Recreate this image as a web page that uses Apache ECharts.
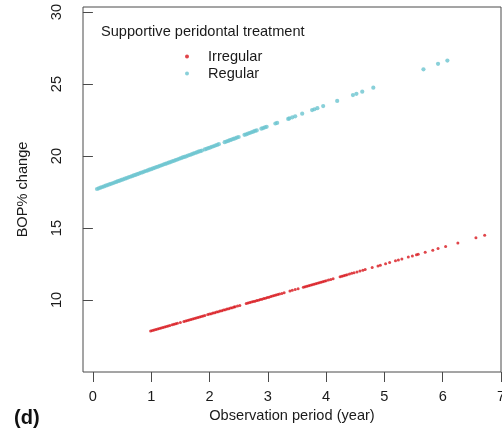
<!DOCTYPE html>
<html>
<head>
<meta charset="utf-8">
<script src="https://cdn.jsdelivr.net/npm/echarts@6/dist/echarts.min.js"></script>
<style>
  html, body { margin: 0; padding: 0; background: #fff; }
  #chart { width: 502px; height: 439px; }
</style>
</head>
<body>
<div id="chart"></div>
<script>
// Predicted BOP% change by observation period, per supportive treatment group
const irregularYears = [
  0.99, 1.02, 1.05, 1.08, 1.11, 1.14, 1.17, 1.20, 1.23, 1.26, 1.29, 1.32, 1.36, 1.39, 1.42, 1.45,
  1.50, 1.56, 1.59, 1.62, 1.65, 1.68, 1.71, 1.74, 1.77, 1.80, 1.83, 1.86, 1.89, 1.92,
  1.97, 2.00, 2.03, 2.06, 2.09, 2.12, 2.15, 2.18, 2.21, 2.24, 2.27, 2.30, 2.33, 2.36, 2.39, 2.42, 2.44,
  2.48, 2.52, 2.63, 2.66, 2.69, 2.72, 2.75, 2.78, 2.81, 2.84, 2.87, 2.90, 2.93, 2.96, 2.99, 3.02,
  3.05, 3.08, 3.11, 3.14, 3.17, 3.20, 3.24, 3.28, 3.38, 3.42, 3.47, 3.52,
  3.61, 3.64, 3.67, 3.70, 3.73, 3.76, 3.79, 3.82, 3.85, 3.88, 3.91, 3.94, 3.97, 4.00, 4.04, 4.08, 4.12,
  4.24, 4.27, 4.30, 4.33, 4.36, 4.40, 4.44, 4.48, 4.53, 4.58, 4.63, 4.67, 4.79,
  4.89, 4.93, 5.02, 5.09, 5.19, 5.24, 5.30, 5.41, 5.48, 5.55, 5.58, 5.70, 5.83, 5.92, 6.05, 6.26, 6.57, 6.72
];
const irregularBop = [
  7.85, 7.88, 7.92, 7.95, 7.99, 8.02, 8.06, 8.09, 8.13, 8.16, 8.20, 8.23, 8.28, 8.31, 8.35, 8.38,
  8.44, 8.51, 8.54, 8.58, 8.61, 8.65, 8.68, 8.72, 8.75, 8.79, 8.82, 8.86, 8.89, 8.93,
  8.99, 9.02, 9.05, 9.09, 9.12, 9.16, 9.19, 9.23, 9.26, 9.30, 9.33, 9.37, 9.40, 9.44, 9.47, 9.51, 9.53,
  9.58, 9.62, 9.75, 9.79, 9.82, 9.86, 9.89, 9.92, 9.96, 9.99, 10.03, 10.06, 10.10, 10.13, 10.17, 10.20,
  10.24, 10.27, 10.31, 10.34, 10.38, 10.41, 10.46, 10.50, 10.62, 10.67, 10.73, 10.78,
  10.89, 10.92, 10.96, 10.99, 11.03, 11.06, 11.10, 11.13, 11.17, 11.20, 11.24, 11.27, 11.31, 11.34, 11.39, 11.43, 11.48,
  11.62, 11.65, 11.69, 11.72, 11.76, 11.80, 11.85, 11.90, 11.95, 12.01, 12.07, 12.12, 12.26,
  12.37, 12.42, 12.52, 12.60, 12.72, 12.78, 12.85, 12.98, 13.06, 13.14, 13.17, 13.31, 13.46, 13.57, 13.72, 13.96, 14.32, 14.50
];

const regularYears = [
  0.07, 0.10, 0.13, 0.16, 0.19, 0.22, 0.25, 0.28, 0.31, 0.34, 0.37, 0.40, 0.43, 0.46, 0.49, 0.52,
  0.55, 0.58, 0.61, 0.64, 0.67, 0.70, 0.73, 0.76, 0.79, 0.82, 0.85, 0.88, 0.91, 0.94, 0.97, 1.00,
  1.03, 1.06, 1.09, 1.12, 1.15, 1.18, 1.21, 1.24, 1.27, 1.30, 1.33, 1.36, 1.39, 1.42, 1.45, 1.48,
  1.51, 1.54, 1.57, 1.60, 1.63, 1.66, 1.69, 1.72, 1.75, 1.78, 1.81, 1.84, 1.87, 1.92, 1.95, 1.98,
  2.01, 2.04, 2.07, 2.10, 2.13, 2.16, 2.26, 2.29, 2.32, 2.35, 2.38, 2.41, 2.44, 2.47, 2.50,
  2.60, 2.63, 2.66, 2.69, 2.72, 2.75, 2.78, 2.81, 2.89, 2.92, 2.95, 2.98,
  3.13, 3.16, 3.35, 3.37, 3.42, 3.47, 3.59, 3.76, 3.80, 3.85, 3.95, 4.19, 4.46, 4.52, 4.62, 4.81,
  5.67, 5.92, 6.08
];
const regularBop = [
  17.71, 17.76, 17.80, 17.85, 17.89, 17.94, 17.98, 18.03, 18.07, 18.11, 18.16, 18.20, 18.25, 18.29, 18.34, 18.38,
  18.43, 18.47, 18.52, 18.56, 18.60, 18.65, 18.69, 18.74, 18.78, 18.83, 18.87, 18.92, 18.96, 19.00, 19.05, 19.09,
  19.14, 19.18, 19.23, 19.27, 19.32, 19.36, 19.41, 19.45, 19.49, 19.54, 19.58, 19.63, 19.67, 19.72, 19.76, 19.81,
  19.85, 19.90, 19.94, 19.98, 20.03, 20.07, 20.12, 20.16, 20.21, 20.25, 20.30, 20.34, 20.38, 20.46, 20.50, 20.55,
  20.59, 20.64, 20.68, 20.73, 20.77, 20.82, 20.96, 21.01, 21.05, 21.10, 21.14, 21.19, 21.23, 21.28, 21.32,
  21.47, 21.51, 21.56, 21.60, 21.65, 21.69, 21.74, 21.78, 21.90, 21.94, 21.99, 22.03,
  22.26, 22.30, 22.58, 22.61, 22.69, 22.76, 22.94, 23.19, 23.25, 23.32, 23.47, 23.83, 24.23, 24.32, 24.47, 24.75,
  26.02, 26.40, 26.63
];

const xTicks = [0, 1, 2, 3, 4, 5, 6, 7];
const yTicks = [10, 15, 20, 25, 30];

const FONT = 'Liberation Sans, Arial, Helvetica, sans-serif';
const RED = '#d8161d';
const CYAN = '#6cc4cf';

const pairs = (xs, ys) => xs.map((x, i) => [x, ys[i]]);

const chart = echarts.init(document.getElementById('chart'), null, { renderer: 'canvas' });

chart.setOption({
  animation: false,
  backgroundColor: '#ffffff',
  textStyle: { fontFamily: FONT },
  title: {
    text: 'Supportive peridontal treatment',
    left: 101,
    top: 24,
    textStyle: { fontFamily: FONT, fontSize: 14.6, fontWeight: 'normal', color: '#1a1a1a' },
    padding: 0
  },
  legend: {
    data: ['Irregular', 'Regular'],
    orient: 'vertical',
    left: 185,
    top: 49,
    padding: 0,
    itemGap: 2,
    itemWidth: 4,
    itemHeight: 4,
    icon: 'circle',
    selectedMode: false,
    textStyle: { fontFamily: FONT, fontSize: 14.6, color: '#1a1a1a', padding: [0, 0, 0, 14] }
  },
  graphic: [{
    type: 'text',
    left: 14,
    top: 408,
    style: { text: '(d)', fontFamily: FONT, fontSize: 20, fontWeight: 'bold', fill: '#111' }
  }],
  grid: {
    left: 83,
    top: 7,
    right: 1,
    bottom: 67,
    outerBoundsMode: 'none',
    containLabel: false,
    show: true,
    borderColor: '#4a4a4a',
    borderWidth: 1,
    backgroundColor: 'transparent'
  },
  xAxis: {
    type: 'value',
    min: -0.17,
    max: 7.0,
    name: 'Observation period (year)',
    nameLocation: 'middle',
    nameGap: 34,
    nameTextStyle: { fontFamily: FONT, fontSize: 14.6, color: '#1a1a1a' },
    axisLine: { show: false },
    axisTick: { show: true, inside: false, length: 10, customValues: xTicks, lineStyle: { color: '#4a4a4a', width: 1 } },
    axisLabel: { customValues: xTicks, margin: 17, fontSize: 14.6, color: '#1a1a1a', fontFamily: FONT, showMinLabel: true, showMaxLabel: true, hideOverlap: false },
    splitLine: { show: false }
  },
  yAxis: {
    type: 'value',
    min: 5.0,
    max: 30.35,
    name: 'BOP% change',
    nameLocation: 'middle',
    nameGap: 53,
    nameRotate: 90,
    nameTextStyle: { fontFamily: FONT, fontSize: 14.6, color: '#1a1a1a' },
    axisLine: { show: false },
    axisTick: { show: true, inside: false, length: 10, customValues: yTicks, lineStyle: { color: '#4a4a4a', width: 1 } },
    axisLabel: { customValues: yTicks, rotate: 90, margin: 19, fontSize: 14.6, color: '#1a1a1a', fontFamily: FONT },
    splitLine: { show: false }
  },
  series: [
    {
      name: 'Irregular',
      type: 'scatter',
      symbol: 'circle',
      symbolSize: 3,
      data: pairs(irregularYears, irregularBop),
      itemStyle: { color: RED },
      emphasis: { disabled: true },
      z: 3
    },
    {
      name: 'Regular',
      type: 'scatter',
      symbol: 'circle',
      symbolSize: 4.2,
      data: pairs(regularYears, regularBop),
      itemStyle: { color: CYAN },
      emphasis: { disabled: true },
      z: 2
    }
  ]
});
</script>
</body>
</html>
